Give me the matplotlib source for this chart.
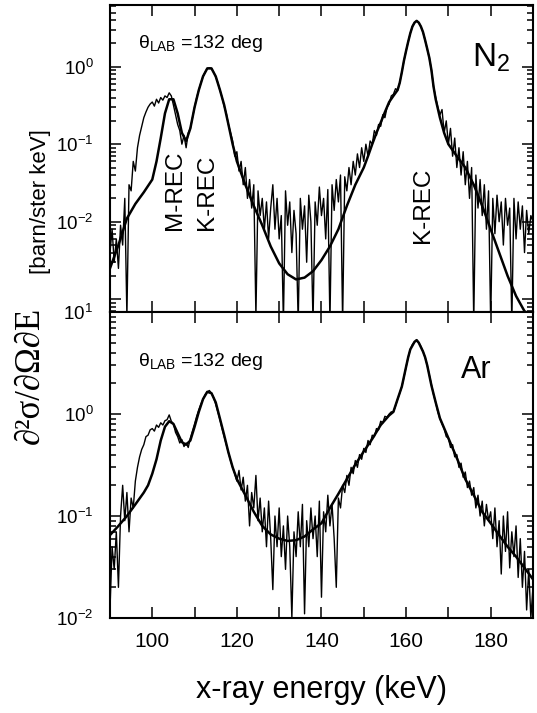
import numpy as np
import matplotlib
matplotlib.use('Agg')
import matplotlib.pyplot as plt
from matplotlib.ticker import LogLocator, FuncFormatter, MultipleLocator, NullFormatter

plt.rcParams['font.family'] = ['Liberation Sans', 'DejaVu Sans']
plt.rcParams['mathtext.default'] = 'regular'

# canais do espectro (keV), passo 0.5
energia = np.arange(90.0, 190.25, 0.5)

# N2 - espectro medido
n2_exp = [0.004, 0.008, 0.003, 0.006, 0.0025, 0.009, 0.005, 0.02, 0.0006, 0.03,
          0.025, 0.06, 0.045, 0.09, 0.13, 0.17, 0.22, 0.26, 0.30, 0.33,
          0.35, 0.31, 0.38, 0.34, 0.40, 0.37, 0.42, 0.40, 0.46, 0.42,
          0.32, 0.24, 0.18, 0.15, 0.10, 0.13, 0.09, 0.14, 0.16, 0.22,
          0.30, 0.40, 0.50, 0.62, 0.75, 0.85, 0.95, 0.97, 0.95, 0.85,
          0.74, 0.62, 0.50, 0.40, 0.31, 0.25, 0.18, 0.14, 0.11, 0.07,
          0.08, 0.045, 0.06, 0.03, 0.05, 0.02, 0.035, 0.015, 0.03, 0.0006,
          0.025, 0.012, 0.02, 0.008, 0.018, 0.006, 0.015, 0.03, 0.008, 0.02,
          0.006, 0.012, 0.0005, 0.025, 0.009, 0.018, 0.004, 0.014, 0.007, 0.0005,
          0.02, 0.008, 0.016, 0.003, 0.022, 0.01, 0.0005, 0.018, 0.009, 0.028,
          0.012, 0.02, 0.006, 0.026, 0.0005, 0.03, 0.014, 0.035, 0.018, 0.04,
          0.0005, 0.038, 0.025, 0.05, 0.03, 0.06, 0.04, 0.075, 0.05, 0.09,
          0.06, 0.10, 0.07, 0.11, 0.10, 0.15, 0.13, 0.18, 0.17, 0.24,
          0.22, 0.30, 0.33, 0.42, 0.44, 0.52, 0.50, 0.62, 0.85, 1.2,
          1.6, 2.1, 2.7, 3.3, 3.7, 3.9, 3.7, 3.3, 2.8, 2.2,
          1.7, 1.3, 0.9, 0.55, 0.4, 0.3, 0.24, 0.28, 0.14, 0.2,
          0.1, 0.16, 0.07, 0.12, 0.05, 0.09, 0.04, 0.08, 0.03, 0.06,
          0.02, 0.05, 0.0005, 0.04, 0.015, 0.035, 0.012, 0.03, 0.008, 0.025,
          0.0005, 0.02, 0.007, 0.022, 0.01, 0.018, 0.005, 0.02, 0.009, 0.015,
          0.0005, 0.02, 0.006, 0.018, 0.008, 0.016, 0.004, 0.014, 0.007, 0.012,
          0.01]

# N2 - teoria
n2_teo_e = [90, 92, 94, 96, 98, 100, 101, 102, 103, 104, 105, 106, 107, 108, 109,
            110, 111, 112, 113, 114, 115, 116, 117, 118, 119, 120, 122, 124, 126,
            128, 130, 132, 134, 136, 138, 140, 142, 144, 146, 148, 150, 151, 152,
            153, 154, 155, 156, 157, 158, 158.5, 159, 159.5, 160, 160.5, 161,
            161.5, 162, 162.5, 163, 163.5, 164, 164.5, 165, 165.5, 166, 166.5,
            167, 168, 169, 170, 172, 174, 176, 178, 180, 182, 184, 186, 188, 190]
n2_teo = [0.0025, 0.005, 0.011, 0.017, 0.024, 0.035, 0.06, 0.12, 0.25, 0.38, 0.38,
          0.25, 0.14, 0.11, 0.16, 0.3, 0.5, 0.75, 0.95, 0.95, 0.75, 0.5, 0.32, 0.18,
          0.1, 0.06, 0.03, 0.016, 0.009, 0.0048, 0.0029, 0.0021, 0.0018, 0.0019,
          0.0023, 0.0032, 0.0048, 0.008, 0.016, 0.03, 0.05, 0.07, 0.1, 0.14, 0.19,
          0.26, 0.35, 0.42, 0.5, 0.62, 0.85, 1.2, 1.6, 2.1, 2.7, 3.3, 3.7, 3.9, 3.7,
          3.3, 2.8, 2.2, 1.7, 1.3, 0.9, 0.55, 0.38, 0.22, 0.14, 0.1, 0.07, 0.05,
          0.03, 0.016, 0.008, 0.004, 0.002, 0.0011, 0.0007, 0.0006]

# Ar - espectro medido
ar_exp = [0.012, 0.05, 0.03, 0.07, 0.02, 0.1, 0.2, 0.09, 0.17, 0.07,
          0.15, 0.12, 0.22, 0.3, 0.38, 0.45, 0.5, 0.6, 0.62, 0.7,
          0.72, 0.68, 0.78, 0.74, 0.82, 0.78, 0.86, 0.88, 0.98, 0.85,
          0.8, 0.66, 0.6, 0.52, 0.56, 0.48, 0.52, 0.47, 0.58, 0.68,
          0.8, 0.95, 1.1, 1.25, 1.4, 1.55, 1.65, 1.7, 1.6, 1.45,
          1.25, 1.05, 0.88, 0.72, 0.6, 0.5, 0.42, 0.35, 0.3, 0.26,
          0.22, 0.28, 0.18, 0.24, 0.14, 0.2, 0.08, 0.17, 0.12, 0.25,
          0.09, 0.15, 0.07, 0.12, 0.05, 0.14, 0.06, 0.019, 0.1, 0.05,
          0.12, 0.04, 0.08, 0.03, 0.1, 0.05, 0.01, 0.07, 0.04, 0.11,
          0.05, 0.13, 0.011, 0.09, 0.05, 0.12, 0.06, 0.1, 0.04, 0.14,
          0.016, 0.11, 0.07, 0.16, 0.08, 0.13, 0.06, 0.02, 0.15, 0.12,
          0.2, 0.17, 0.25, 0.2, 0.3, 0.26, 0.35, 0.3, 0.4, 0.36,
          0.46, 0.42, 0.55, 0.5, 0.62, 0.6, 0.72, 0.7, 0.85, 0.82,
          0.95, 0.93, 1.0, 1.05, 1.05, 1.2, 1.4, 1.6, 1.86, 2.3,
          2.9, 3.6, 4.3, 4.8, 5.1, 5.3, 5.0, 4.6, 4.1, 3.6,
          3.0, 2.4, 1.9, 1.55, 1.3, 1.05, 0.9, 0.8, 0.72, 0.6,
          0.58, 0.47, 0.5, 0.38, 0.4, 0.3, 0.33, 0.24, 0.27, 0.19,
          0.22, 0.16, 0.19, 0.12, 0.16, 0.1, 0.14, 0.08, 0.13, 0.09,
          0.11, 0.06, 0.12, 0.05, 0.09, 0.027, 0.1, 0.045, 0.11, 0.031,
          0.07, 0.04, 0.08, 0.025, 0.06, 0.02, 0.045, 0.012, 0.03, 0.01,
          0.02]

# Ar - teoria
ar_teo_e = [90, 92, 94, 96, 98, 99, 100, 101, 102, 103, 104, 105, 106, 107, 108,
            109, 110, 111, 112, 113, 114, 115, 116, 117, 118, 119, 120, 122, 124,
            126, 128, 130, 132, 134, 136, 138, 140, 142, 144, 146, 148, 150, 152,
            154, 156, 157, 158, 159, 160, 160.5, 161, 162, 162.5, 163, 164, 164.5,
            165, 166, 167, 168, 170, 172, 174, 176, 178, 180, 182, 184, 186, 188, 190]
ar_teo = [0.065, 0.08, 0.10, 0.13, 0.17, 0.2, 0.26, 0.36, 0.55, 0.75, 0.85, 0.80,
          0.65, 0.53, 0.50, 0.55, 0.75, 1.05, 1.4, 1.65, 1.6, 1.3, 0.9, 0.62, 0.42,
          0.30, 0.23, 0.16, 0.11, 0.08, 0.066, 0.06, 0.057, 0.058, 0.063, 0.074,
          0.085, 0.12, 0.165, 0.23, 0.32, 0.43, 0.57, 0.78, 0.97, 1.05, 1.4, 1.86,
          2.9, 3.6, 4.3, 5.1, 5.3, 5.0, 4.1, 3.6, 3.0, 1.9, 1.3, 0.91, 0.58, 0.37,
          0.23, 0.16, 0.11, 0.085, 0.065, 0.05, 0.04, 0.031, 0.024]


def fmt_dec(omit=()):
    def f(v, p):
        e = int(round(np.log10(v)))
        if e in omit:
            return ''
        return r'$\mathregular{10^{%d}}$' % e
    return FuncFormatter(f)


fig = plt.figure(figsize=(5.37, 7.13), dpi=100)
ax1 = fig.add_axes([0.2048, 0.5624, 0.7877, 0.4306])
ax2 = fig.add_axes([0.2048, 0.1332, 0.7877, 0.4292])

ax1.plot(energia, n2_exp, color='k', lw=1.0)
ax1.plot(n2_teo_e, n2_teo, color='k', lw=1.8)
ax2.plot(energia, ar_exp, color='k', lw=1.0)
ax2.plot(ar_teo_e, ar_teo, color='k', lw=1.8)

ax1.set_yscale('log')
ax2.set_yscale('log')
ax1.set_ylim(10**-3.165, 10**0.796)
ax2.set_ylim(1e-2, 1e1)
ax1.yaxis.set_major_formatter(fmt_dec(omit=(-3,)))
ax2.yaxis.set_major_formatter(fmt_dec())

for ax in (ax1, ax2):
    ax.set_xlim(90, 190)
    ax.xaxis.set_major_locator(MultipleLocator(20))
    ax.xaxis.set_minor_locator(MultipleLocator(10))
    ax.yaxis.set_major_locator(LogLocator(base=10))
    ax.yaxis.set_minor_locator(LogLocator(base=10, subs=np.arange(2, 10)))
    ax.yaxis.set_minor_formatter(NullFormatter())
    ax.tick_params(which='both', direction='in', top=True, right=True, width=1.1)
    ax.tick_params(which='major', length=8)
    ax.tick_params(which='minor', length=4)
    ax.tick_params(axis='y', labelsize=13.5, pad=12)
    ax.tick_params(axis='x', labelsize=15, pad=10)
    ax.tick_params(axis='x', which='minor', length=8)
    for s in ax.spines.values():
        s.set_linewidth(1.5)
ax1.tick_params(axis='x', labelbottom=False)

# textos
ax1.text(0.066, 0.873, r'$\theta_{LAB}$ =132 deg', transform=ax1.transAxes,
         fontsize=14, va='center')
ax2.text(0.066, 0.837, r'$\theta_{LAB}$ =132 deg', transform=ax2.transAxes,
         fontsize=14, va='center')
ax1.text(0.90, 0.829, r'N$_2$', transform=ax1.transAxes, fontsize=24,
         ha='center', va='center')
ax2.text(0.865, 0.81, 'Ar', transform=ax2.transAxes, fontsize=22,
         ha='center', va='center')

tr = ax1.get_xaxis_transform()
ax1.text(105.3, 0.267, 'M-REC', transform=tr, rotation=90, fontsize=17.5,
         ha='center', va='bottom')
ax1.text(112.9, 0.267, 'K-REC', transform=tr, rotation=90, fontsize=17.5,
         ha='center', va='bottom')
ax1.text(164.1, 0.225, 'K-REC', transform=tr, rotation=90, fontsize=17.5,
         ha='center', va='bottom')

fig.text(0.075, 0.717, '[barn/ster keV]', rotation=90, fontsize=16,
         ha='center', va='center')
fig.text(0.056, 0.474, '\u2202\u00b2\u03c3/\u2202\u03a9\u2202E', rotation=90,
         fontsize=25, ha='center', va='center',
         family=['Liberation Serif', 'DejaVu Serif'])
fig.text(0.598, 0.032, 'x-ray energy (keV)', fontsize=22, ha='center', va='center')

plt.savefig('out.png', dpi=100)
